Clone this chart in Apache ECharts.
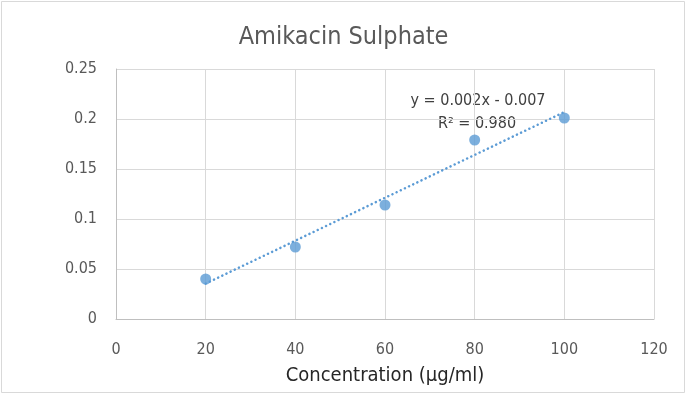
<!DOCTYPE html>
<html><head><meta charset="utf-8">
<script src="https://cdn.jsdelivr.net/npm/echarts@6/dist/echarts.min.js"></script>
<style>html,body{margin:0;padding:0;background:#fff;overflow:hidden}#c{width:687px;height:395px}</style>
</head><body><div id="c"></div>
<script>
var concentrations = [20, 40, 60, 80, 100];
var absorbance = [0.040, 0.072, 0.114, 0.179, 0.201];
var xTicks = [0, 20, 40, 60, 80, 100, 120];
var yTicks = [0, 0.05, 0.1, 0.15, 0.2, 0.25];
var titleText = 'Amikacin Sulphate';
var xAxisTitle = 'Concentration (µg/ml)';
var equationText = 'y = 0.002x - 0.007';
var r2Text = 'R² = 0.980';

// least-squares fit computed from the data
var n = concentrations.length, mx = 0, my = 0;
for (var i = 0; i < n; i++) { mx += concentrations[i]; my += absorbance[i]; }
mx /= n; my /= n;
var sxy = 0, sxx = 0;
for (var i = 0; i < n; i++) { sxy += (concentrations[i]-mx)*(absorbance[i]-my); sxx += (concentrations[i]-mx)*(concentrations[i]-mx); }
var slope = sxy / sxx, intercept = my - slope * mx;
var x0 = concentrations[0], x1 = concentrations[n-1];
var trend = [[x0, slope*x0+intercept], [x1, slope*x1+intercept]];

var font = '"DejaVu Sans Condensed","Liberation Sans",sans-serif';
var chart = echarts.init(document.getElementById('c'), null, {renderer: 'canvas'});
chart.setOption({
  animation: false,
  backgroundColor: '#fff',
  title: {text: titleText, left: 'center', top: 20,
    textStyle: {fontFamily: font, fontSize: 25, fontWeight: 'normal', color: '#595959'}},
  grid: {left: 116, right: 33, top: 69, bottom: 76},
  xAxis: {type: 'value', min: xTicks[0], max: xTicks[xTicks.length-1], interval: 20,
    name: xAxisTitle, nameLocation: 'middle', nameGap: 47,
    nameTextStyle: {fontFamily: font, fontSize: 20, color: '#262626'},
    axisLine: {show: true, lineStyle: {color: '#bfbfbf'}}, axisTick: {show: false},
    axisLabel: {fontFamily: font, fontSize: 16, color: '#595959', margin: 23},
    splitLine: {show: true, lineStyle: {color: '#d9d9d9'}}},
  yAxis: {type: 'value', min: yTicks[0], max: yTicks[yTicks.length-1], interval: 0.05,
    axisLine: {show: true, lineStyle: {color: '#bfbfbf'}}, axisTick: {show: false},
    axisLabel: {fontFamily: font, fontSize: 16, color: '#595959', margin: 19},
    splitLine: {show: true, lineStyle: {color: '#d9d9d9'}}},
  graphic: [
    {type: 'rect', x: 0, y: 0, shape: {x: 1.5, y: 1.5, width: 683, height: 391}, style: {fill: 'none', stroke: '#d9d9d9', lineWidth: 1}, silent: true, z: 100},
    {type: 'text', x: 478, y: 101, style: {text: equationText, fontFamily: font, fontSize: 16, fill: '#404040', textAlign: 'center', textVerticalAlign: 'middle'}},
    {type: 'text', x: 477, y: 124, style: {text: r2Text, fontFamily: font, fontSize: 16, fill: '#404040', textAlign: 'center', textVerticalAlign: 'middle'}}
  ],
  series: [
    {type: 'line', data: trend, symbol: 'none', lineStyle: {color: '#5b9bd5', width: 2.5, type: [0.1, 4.5], cap: 'round'}, z: 2},
    {type: 'scatter', data: concentrations.map(function(x, i){return [x, absorbance[i]];}),
      symbol: 'circle', symbolSize: 11, itemStyle: {color: '#5b9bd5'}, z: 3}
  ]
});
</script></body></html>
